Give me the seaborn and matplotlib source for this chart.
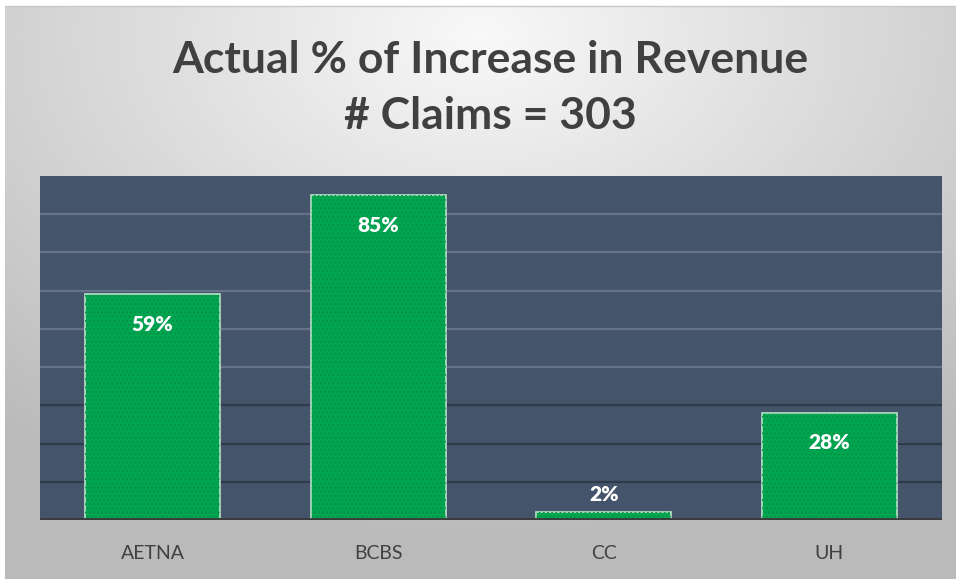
import numpy as np
import pandas as pd
import matplotlib
matplotlib.use('Agg')
import matplotlib.pyplot as plt
import seaborn as sns

# ---- data ----
payers = ['AETNA', 'BCBS', 'CC', 'UH']
pct_increase = [0.59, 0.85, 0.02, 0.28]
title_text = 'Actual % of Increase in Revenue\n# Claims = 303'

df = pd.DataFrame({'Payer': payers, 'Increase': pct_increase})

sns.set_style('white')
plt.rcParams['font.family'] = ['Lato', 'DejaVu Sans']

W, H = 956, 579
fig = plt.figure(figsize=(W / 100, H / 100), dpi=100)
fig.patch.set_facecolor('white')

# slide background: radial grey gradient, light at top centre
bg = fig.add_axes([5 / W, 0, 1 - 5 / W, 1 - 6 / H], zorder=-5)
yy, xx = np.mgrid[0:1:300j, 0:1:500j]
r = np.sqrt(((xx - 0.5) * 1.0) ** 2 + ((yy - 0.05) * 0.9) ** 2)
r = np.clip(r / 0.8, 0, 1)
light = np.array([0.975, 0.975, 0.975])
dark = np.array([0.73, 0.73, 0.73])
img = light[None, None, :] * (1 - r[..., None]) + dark[None, None, :] * r[..., None]
bg.imshow(img, aspect='auto', extent=[0, 1, 0, 1], origin='upper')
bg.set_axis_off()
fig.add_artist(plt.Line2D([5 / W, 1], [1 - 6 / H, 1 - 6 / H], color='#c8c8c8', lw=1))

# plot area
ax = fig.add_axes([40 / W, 59 / H, 902 / W, 344 / H])
ax.set_facecolor('#44546A')

sns.barplot(data=df, x='Payer', y='Increase', color='#00A550', width=0.6,
            edgecolor='#b8e3c6', linewidth=1.2, saturation=1, ax=ax, zorder=3)

# dotted texture on the bars
plt.rcParams['hatch.linewidth'] = 0.6
for p in list(ax.patches):
    ax.add_patch(plt.Rectangle((p.get_x(), p.get_y()), p.get_width(), p.get_height(),
                               facecolor='none', edgecolor='#0b8a46', hatch='....',
                               linewidth=0, zorder=3.5))

ax.set_ylim(0, 0.9)
ax.set_xlim(-0.5, 3.5)
ax.set_yticks([])
for g in np.arange(0.1, 0.9, 0.1):
    c = '#2f3b4b' if g < 0.35 else '#65728a'
    ax.axhline(g, color=c, lw=1.6, zorder=1)
ax.axhline(0, color='#3b3b3b', lw=3.5, zorder=5, solid_capstyle='butt')

for s in ax.spines.values():
    s.set_visible(False)

ax.set_xlabel('')
ax.set_ylabel('')
ax.tick_params(axis='x', length=0, pad=18, labelsize=14, labelcolor='#404040')

for i, v in enumerate(pct_increase):
    off = -30 if v > 0.1 else 18
    ax.annotate(f'{v:.0%}', (i, v), xytext=(0, off), textcoords='offset pixels',
                ha='center', va='center', color='white', fontsize=15,
                fontweight='heavy', zorder=6)

fig.text(490 / W, 1 - 88 / H, title_text, ha='center', va='center',
         fontsize=32, fontweight='bold', color='#404040', linespacing=1.5)

fig.savefig('out.png', dpi=100)
